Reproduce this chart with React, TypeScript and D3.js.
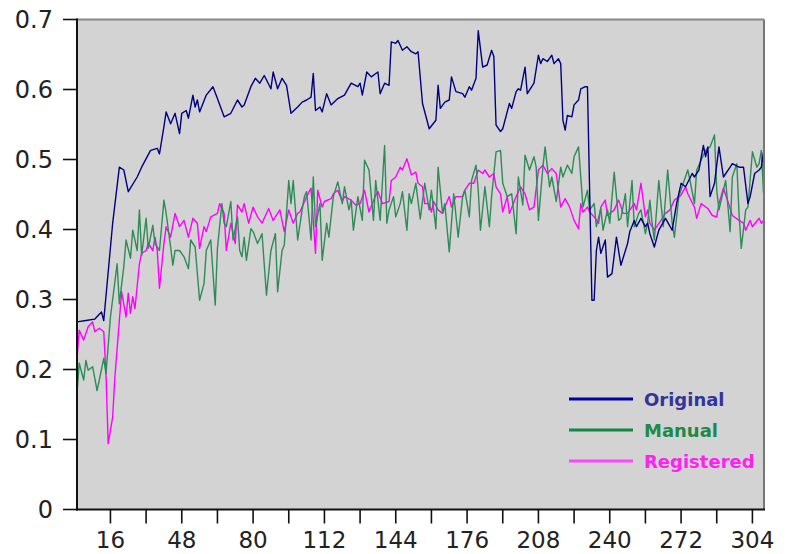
import React from "react";
import * as d3 from "d3";

// [frame index, similarity]
const original: [number, number][] = [
  [1, .268], [5, .270], [9, .272], [12, .282], [13, .270], [17, .409], [20, .489], [22, .485], [24, .454], [28, .475],
  [30, .489], [34, .513], [37, .516], [38, .508], [40, .547], [41, .568], [43, .551], [45, .566], [47, .537], [48, .566],
  [50, .570], [51, .559], [53, .592], [54, .575], [55, .585], [56, .568], [59, .592], [62, .604], [64, .587], [67, .561],
  [70, .566], [73, .585], [75, .575], [76, .578], [79, .604], [81, .616], [83, .609], [85, .620], [88, .601], [89, .625],
  [91, .601], [93, .616], [95, .606], [97, .566], [100, .575], [102, .582], [104, .585], [106, .589], [107, .623], [108, .570],
  [110, .575], [111, .568], [113, .594], [115, .578], [118, .587], [121, .592], [124, .609], [127, .604], [128, .609], [129, .592],
  [131, .625], [133, .618], [136, .625], [137, .594], [139, .609], [141, .606], [142, .668], [144, .666], [145, .670], [147, .656],
  [149, .661], [151, .654], [153, .651], [154, .654], [156, .580], [158, .556], [159, .544], [162, .556], [163, .606], [164, .573],
  [166, .582], [168, .585], [169, .618], [171, .597], [174, .594], [175, .589], [177, .604], [178, .599], [180, .616], [181, .684],
  [183, .632], [185, .635], [187, .656], [188, .647], [189, .549], [191, .540], [192, .544], [195, .580], [196, .573], [198, .597],
  [199, .601], [200, .599], [202, .632], [203, .594], [206, .609], [208, .649], [209, .637], [210, .644], [212, .640], [214, .649],
  [215, .637], [217, .644], [218, .637], [219, .556], [220, .542], [221, .563], [223, .561], [224, .578], [226, .585], [227, .601],
  [229, .604], [230, .604], [232, .299], [233, .299], [234, .370], [235, .389], [236, .366], [238, .385], [239, .332], [241, .337],
  [243, .389], [245, .349], [248, .380], [249, .397], [251, .413], [252, .404], [254, .416], [256, .404], [257, .409], [258, .394],
  [260, .375], [262, .399], [265, .416], [268, .399], [270, .437], [272, .466], [274, .461], [277, .480], [278, .475], [280, .485],
  [282, .520], [283, .504], [284, .518], [285, .447], [287, .466], [289, .518], [291, .475], [294, .489], [295, .494], [298, .489],
  [300, .489], [302, .437], [303, .447], [305, .480], [307, .485], [308, .489], [309, .511],
];

const manual: [number, number][] = [
  [1, .166], [2, .209], [4, .185], [5, .213], [6, .199], [8, .204], [10, .170], [11, .185], [13, .216], [14, .194],
  [16, .275], [19, .351], [20, .294], [22, .347], [23, .385], [25, .359], [26, .399], [28, .370], [29, .428], [30, .363],
  [32, .416], [33, .373], [35, .406], [36, .380], [38, .370], [40, .442], [41, .423], [43, .375], [44, .349], [45, .370],
  [47, .370], [49, .361], [51, .344], [52, .385], [54, .375], [56, .299], [58, .323], [59, .370], [61, .385], [63, .292],
  [64, .373], [66, .437], [67, .409], [68, .404], [70, .440], [71, .385], [73, .418], [74, .370], [75, .361], [76, .389],
  [77, .356], [79, .401], [80, .397], [82, .380], [84, .394], [86, .306], [88, .370], [90, .394], [91, .311], [93, .370],
  [94, .378], [96, .470], [97, .437], [98, .470], [100, .385], [102, .428], [103, .447], [104, .454], [106, .385], [107, .475],
  [108, .404], [110, .437], [111, .356], [113, .409], [114, .389], [116, .447], [118, .468], [120, .437], [121, .461], [123, .428],
  [124, .442], [125, .399], [127, .447], [129, .413], [130, .499], [132, .485], [134, .413], [135, .470], [137, .413], [139, .520],
  [140, .409], [141, .428], [143, .447], [144, .418], [146, .437], [147, .454], [149, .399], [150, .451], [151, .437], [153, .466],
  [155, .415], [157, .466], [159, .428], [160, .456], [162, .401], [163, .489], [165, .423], [166, .437], [168, .368], [170, .451],
  [172, .389], [174, .447], [175, .456], [177, .418], [178, .470], [180, .492], [181, .456], [182, .399], [184, .461], [186, .404],
  [187, .447], [189, .511], [191, .513], [192, .466], [194, .447], [196, .451], [198, .394], [199, .475], [201, .435], [202, .506],
  [204, .485], [206, .504], [207, .489], [208, .413], [210, .489], [211, .518], [213, .461], [214, .475], [216, .440], [218, .489],
  [219, .475], [221, .492], [223, .480], [224, .504], [226, .518], [228, .432], [230, .456], [231, .428], [233, .437], [234, .404],
  [236, .430], [237, .399], [239, .428], [240, .409], [242, .482], [244, .413], [245, .416], [247, .451], [248, .404], [250, .470],
  [251, .404], [253, .423], [254, .428], [256, .394], [257, .409], [258, .442], [259, .409], [260, .385], [262, .470], [264, .404],
  [266, .485], [268, .409], [269, .389], [271, .447], [273, .466], [275, .485], [276, .470], [278, .437], [279, .485], [281, .499],
  [283, .513], [285, .518], [287, .535], [288, .456], [289, .428], [292, .470], [294, .397], [295, .475], [297, .494], [298, .423],
  [299, .373], [301, .428], [302, .432], [304, .511], [306, .489], [307, .494], [308, .513], [309, .452],
];

const registered: [number, number][] = [
  [1, .216], [2, .256], [4, .242], [6, .261], [8, .268], [9, .254], [11, .259], [13, .254], [14, .194], [15, .094],
  [17, .132], [18, .189], [20, .270], [21, .311], [23, .275], [24, .309], [25, .280], [26, .304], [27, .287], [29, .351],
  [30, .366], [32, .370], [33, .380], [35, .370], [36, .389], [37, .370], [38, .316], [40, .380], [41, .404], [43, .389],
  [45, .423], [47, .404], [49, .413], [51, .389], [53, .416], [55, .409], [56, .373], [58, .404], [59, .397], [61, .418],
  [64, .423], [65, .437], [67, .423], [68, .370], [70, .409], [72, .380], [73, .435], [75, .425], [76, .437], [78, .409],
  [80, .432], [82, .418], [84, .409], [87, .430], [89, .413], [92, .428], [94, .397], [96, .428], [98, .409], [100, .423],
  [101, .425], [104, .447], [106, .459], [108, .366], [109, .456], [111, .432], [112, .440], [115, .444], [116, .451], [118, .456],
  [120, .440], [121, .447], [124, .442], [126, .435], [128, .437], [130, .456], [132, .425], [135, .449], [136, .454], [138, .437],
  [141, .440], [142, .470], [144, .475], [146, .489], [147, .485], [149, .501], [151, .478], [153, .482], [154, .466], [156, .461],
  [157, .437], [159, .437], [160, .425], [161, .440], [163, .428], [165, .423], [166, .432], [168, .447], [169, .432], [171, .447],
  [174, .447], [175, .456], [177, .466], [179, .466], [181, .485], [183, .480], [184, .485], [186, .475], [188, .480], [189, .461],
  [191, .451], [192, .425], [194, .447], [195, .423], [198, .447], [199, .454], [200, .461], [202, .451], [204, .428], [206, .432],
  [208, .485], [210, .492], [212, .480], [214, .487], [216, .480], [218, .432], [220, .444], [222, .432], [224, .413], [226, .401],
  [227, .437], [228, .425], [230, .432], [231, .425], [233, .418], [235, .409], [236, .432], [238, .442], [239, .420], [242, .428],
  [244, .442], [246, .423], [248, .423], [251, .437], [252, .428], [254, .466], [256, .418], [257, .428], [258, .409], [260, .399],
  [263, .413], [265, .423], [267, .428], [269, .442], [272, .449], [274, .461], [275, .451], [278, .432], [279, .416], [281, .437],
  [284, .430], [286, .420], [288, .418], [289, .437], [291, .459], [293, .440], [295, .420], [298, .413], [300, .409], [301, .399],
  [303, .413], [304, .404], [307, .416], [308, .409], [309, .413],
];

const seriesNames = ["Original", "Manual", "Registered"];
const lineColors = ["#000080", "#2e8b57", "#ff00ff"];
const legendLineColors = ["#0000aa", "#118844", "#ff44ff"];
const legendTextColors = ["#333399", "#1e8a4a", "#ff22ee"];
const yTicks = [0, 0.1, 0.2, 0.3, 0.4, 0.5, 0.6, 0.7];
const xTicks = d3.range(16, 305, 16);
const xLabels = [16, 48, 80, 112, 144, 176, 208, 240, 272, 304];

const W = 790;
const H = 554;
const left = 77;
const right = 764;
const top = 19.5;
const bottom = 509.5;
const font = "'DejaVu Sans', sans-serif";

export default function App() {
  const x = d3.scaleLinear().domain([1, 309.2]).range([left, right]);
  const y = d3.scaleLinear().domain([0, 0.7]).range([bottom, top]);
  const line = d3
    .line<[number, number]>()
    .x((d) => x(d[0]))
    .y((d) => y(d[1]));

  const data = [original, manual, registered];
  // magenta underneath, then green, navy on top
  const drawOrder = [2, 1, 0];

  return (
    <div style={{ position: "absolute", left: 0, top: 0 }}>
      <svg width={W} height={H} style={{ display: "block", background: "#fff" }}>
        <rect x={left} y={top} width={right - left} height={bottom - top} fill="#d3d3d3" />
        <defs>
          <clipPath id="plot">
            <rect x={left} y={top} width={right - left} height={bottom - top} />
          </clipPath>
        </defs>
        <g clipPath="url(#plot)">
          {drawOrder.map((i) => (
            <path
              key={i}
              d={line(data[i]) ?? ""}
              fill="none"
              stroke={lineColors[i]}
              strokeWidth={1.4}
              strokeLinejoin="round"
            />
          ))}
        </g>

        {/* frame: grey top/right, black axes */}
        <line x1={left} x2={right} y1={top} y2={top} stroke="#888" strokeWidth={2} />
        <line x1={right} x2={right} y1={top} y2={bottom} stroke="#777" strokeWidth={2} />
        <line x1={left} x2={left} y1={top - 1} y2={bottom + 1} stroke="#111" strokeWidth={2} />
        <line x1={left - 1} x2={right + 1} y1={bottom} y2={bottom} stroke="#111" strokeWidth={2} />

        {yTicks.map((t) => (
          <g key={t}>
            <line x1={left - 14} x2={left} y1={y(t)} y2={y(t)} stroke="#111" strokeWidth={1.6} />
            <text
              x={left - 24}
              y={y(t)}
              dy="0.36em"
              textAnchor="end"
              fontFamily={font}
              fontSize={24}
              fill="#222"
            >
              {t === 0 ? "0" : t.toFixed(1)}
            </text>
          </g>
        ))}

        {xTicks.map((t) => (
          <line key={t} x1={x(t)} x2={x(t)} y1={bottom} y2={bottom + 14} stroke="#111" strokeWidth={1.6} />
        ))}
        {xLabels.map((t) => (
          <text key={t} x={x(t)} y={548} textAnchor="middle" fontFamily={font} fontSize={23} fill="#222">
            {t}
          </text>
        ))}

        {seriesNames.map((name, i) => {
          const ly = 399 + i * 31;
          return (
            <g key={name}>
              <line x1={569} x2={633} y1={ly} y2={ly} stroke={legendLineColors[i]} strokeWidth={3} />
              <text
                x={644}
                y={ly + 7}
                fontFamily={font}
                fontSize={18}
                fontWeight="bold"
                fill={legendTextColors[i]}
              >
                {name}
              </text>
            </g>
          );
        })}
      </svg>
    </div>
  );
}
